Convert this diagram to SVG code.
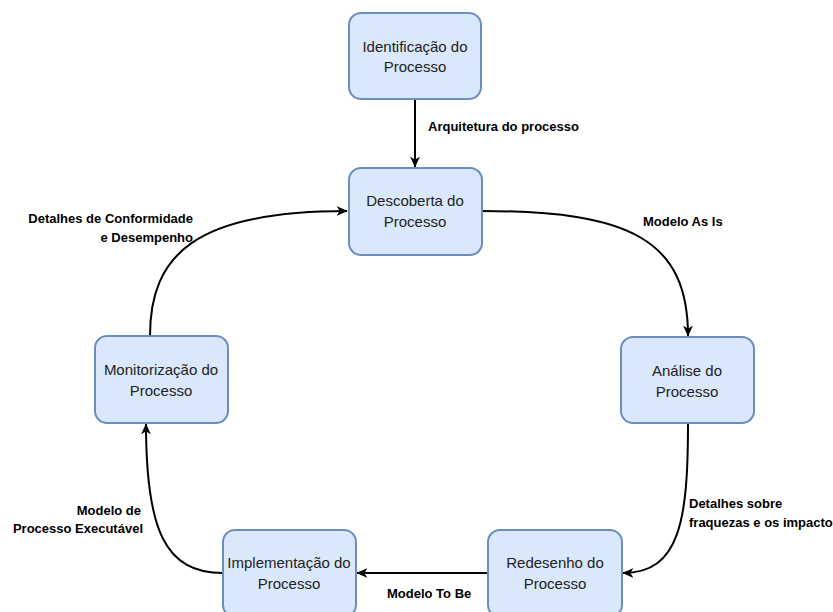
<svg xmlns="http://www.w3.org/2000/svg" width="833" height="612" viewBox="0 0 833 612">
<style>
.box{fill:#dae8fc;stroke:#6c8ebf;stroke-width:2}
.nt{font-family:"Liberation Sans",Arial,sans-serif;font-size:15px;fill:#222;text-anchor:middle}
.lb{font-family:"Liberation Sans",Arial,sans-serif;font-size:13px;font-weight:bold;fill:#000}
.edge{fill:none;stroke:#000;stroke-width:2}
</style>
<defs>
<marker id="arr" viewBox="0 0 10 10" markerWidth="11" markerHeight="11" refX="9.5" refY="5" orient="auto" markerUnits="userSpaceOnUse">
<path d="M0,0.5 L10,5 L0,9.5 L2.8,5 z" fill="#000"/>
</marker>
</defs>
<rect width="833" height="612" fill="#fff"/>
<g id="connectors">
<path class="edge" d="M415,99 L415,167" marker-end="url(#arr)"/>
<path class="edge" d="M482,211 C630,211 688,240 688,336" marker-end="url(#arr)"/>
<path class="edge" d="M688,423 C688,520 680,573 623,573" marker-end="url(#arr)"/>
<path class="edge" d="M488,573 L357,573" marker-end="url(#arr)"/>
<path class="edge" d="M223,573 C165,573 146,530 146,424" marker-end="url(#arr)"/>
<path class="edge" d="M150,336 C150,255 195,211 347,211" marker-end="url(#arr)"/>
</g>
<g id="labels">
<text class="lb" x="428" y="131">Arquitetura do processo</text>
<text class="lb" x="643" y="226">Modelo As Is</text>
<text class="lb" x="689" y="508">Detalhes sobre</text>
<text class="lb" x="689" y="527">fraquezas e os impactos</text>
<text class="lb" x="387" y="598">Modelo To Be</text>
<text class="lb" x="141" y="515" text-anchor="end">Modelo de</text>
<text class="lb" x="143" y="533" text-anchor="end">Processo Executável</text>
<text class="lb" x="193" y="223" text-anchor="end">Detalhes de Conformidade</text>
<text class="lb" x="193" y="242" text-anchor="end">e Desempenho</text>
</g>
<g id="n-identificacao">
<rect class="box" x="349" y="13" width="132" height="86" rx="12"/>
<text class="nt" x="415" y="52">Identificação do</text>
<text class="nt" x="415" y="72">Processo</text>
</g>
<g id="n-descoberta">
<rect class="box" x="349" y="168" width="133" height="87" rx="12"/>
<text class="nt" x="415" y="206">Descoberta do</text>
<text class="nt" x="415" y="227">Processo</text>
</g>
<g id="n-analise">
<rect class="box" x="621" y="337" width="133" height="86" rx="12"/>
<text class="nt" x="687" y="376">Análise do</text>
<text class="nt" x="687" y="397">Processo</text>
</g>
<g id="n-redesenho">
<rect class="box" x="488" y="530" width="134" height="87" rx="12"/>
<text class="nt" x="555" y="568">Redesenho do</text>
<text class="nt" x="555" y="589">Processo</text>
</g>
<g id="n-implementacao">
<rect class="box" x="223" y="530" width="133" height="87" rx="12"/>
<text class="nt" x="289" y="568">Implementação do</text>
<text class="nt" x="289" y="589">Processo</text>
</g>
<g id="n-monitorizacao">
<rect class="box" x="95" y="336" width="133" height="87" rx="12"/>
<text class="nt" x="161" y="375">Monitorização do</text>
<text class="nt" x="161" y="396">Processo</text>
</g>
</svg>
